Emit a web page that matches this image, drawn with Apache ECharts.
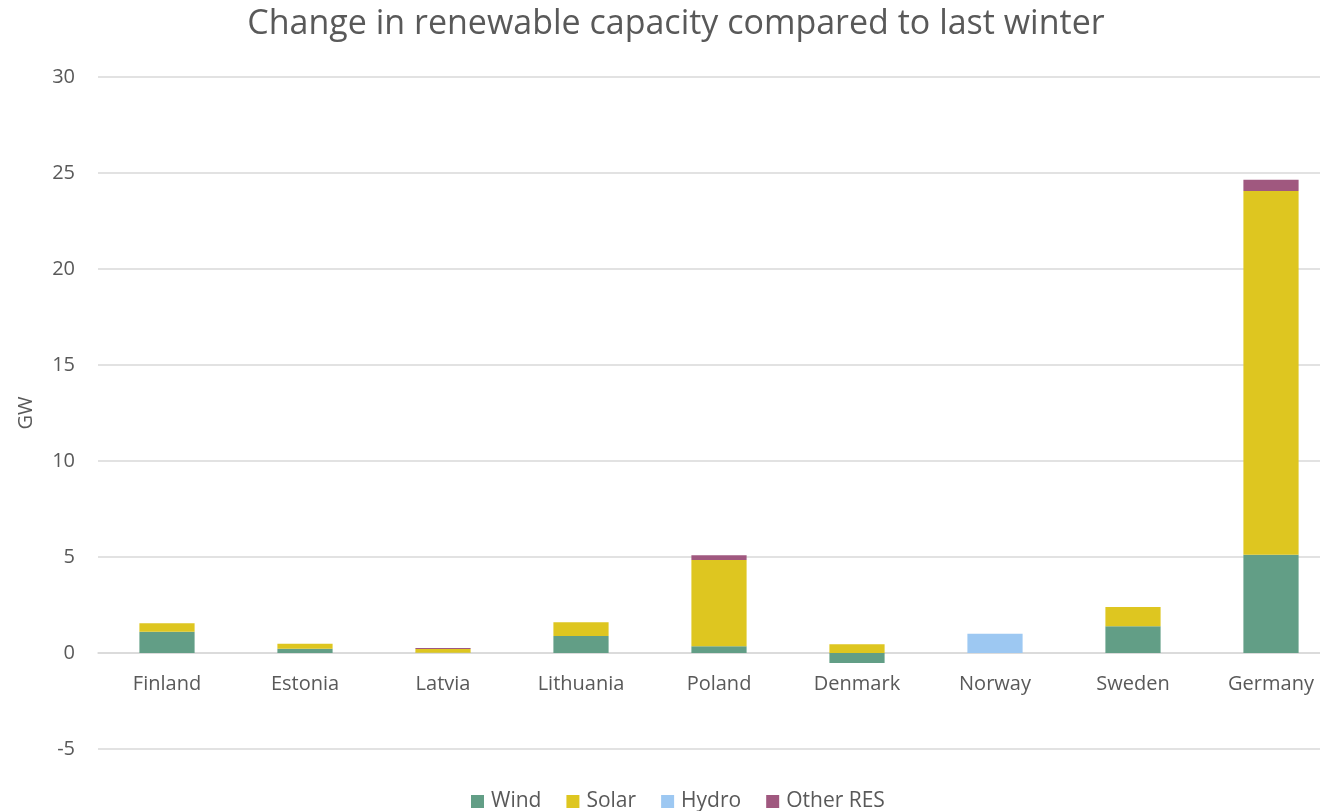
<!DOCTYPE html>
<html><head><meta charset="utf-8">
<script src="https://cdn.jsdelivr.net/npm/echarts@6/dist/echarts.min.js"></script>
<style>html,body{margin:0;padding:0;background:#fff;overflow:hidden}#c{width:1340px;height:811px}</style>
</head><body><div id="c"></div>
<script>
const categories = ['Finland','Estonia','Latvia','Lithuania','Poland','Denmark','Norway','Sweden','Germany'];
const wind  = [1.11, 0.22, 0.01, 0.89, 0.35, -0.52, 0, 1.39, 5.12];
const solar = [0.44, 0.26, 0.20, 0.71, 4.50, 0.45, 0, 1.00, 18.94];
const hydro = [0, 0, 0, 0, 0, 0, 1.00, 0, 0];
const other = [0, 0, 0.05, 0, 0.24, 0, 0, 0, 0.59];
const yTicks = [-5, 0, 5, 10, 15, 20, 25, 30];

const font = 'Open Sans, Liberation Sans, sans-serif';
const chart = echarts.init(document.getElementById('c'));
function s(name, data, color) {
  return {name, type:'bar', stack:'total', data, barWidth:'40%',
    itemStyle:{color}, emphasis:{disabled:true}};
}
chart.setOption({
  animation:false,
  title:{text:'Change in renewable capacity compared to last winter', left:671, top:2, textAlign:'center',
    textStyle:{fontFamily:font, fontSize:34, fontWeight:'normal', color:'#595959'}},
  legend:{top:786, left:466, itemWidth:13, itemHeight:13, itemGap:25,
    icon:'rect', textStyle:{fontFamily:font, fontSize:21, color:'#595959', padding:[0,0,0,2]},
    data:['Wind','Solar','Hydro','Other RES']},
  grid:{left:98, top:77, right:0, height:672, containLabel:false},
  xAxis:{type:'category', data:categories, position:'bottom', offset:-96,
    axisLine:{onZero:false, lineStyle:{color:'#d9d9d9', width:1.5}}, axisTick:{show:false},
    axisLabel:{fontFamily:font, fontSize:20, color:'#595959', margin:21, interval:0}},
  yAxis:{type:'value', min:yTicks[0], max:yTicks[yTicks.length-1], interval:5,
    name:'GW', nameLocation:'middle', nameGap:62, nameRotate:90,
    nameTextStyle:{fontFamily:font, fontSize:20, color:'#595959'},
    axisLine:{show:false}, axisTick:{show:false},
    axisLabel:{fontFamily:font, fontSize:20, color:'#595959', margin:23},
    splitLine:{lineStyle:{color:'#d9d9d9', width:1.5}}},
  series:[
    s('Wind', wind, '#629e86'),
    s('Solar', solar, '#dec620'),
    s('Hydro', hydro, '#9dc8f2'),
    s('Other RES', other, '#a0587f')
  ]
});
</script></body></html>
